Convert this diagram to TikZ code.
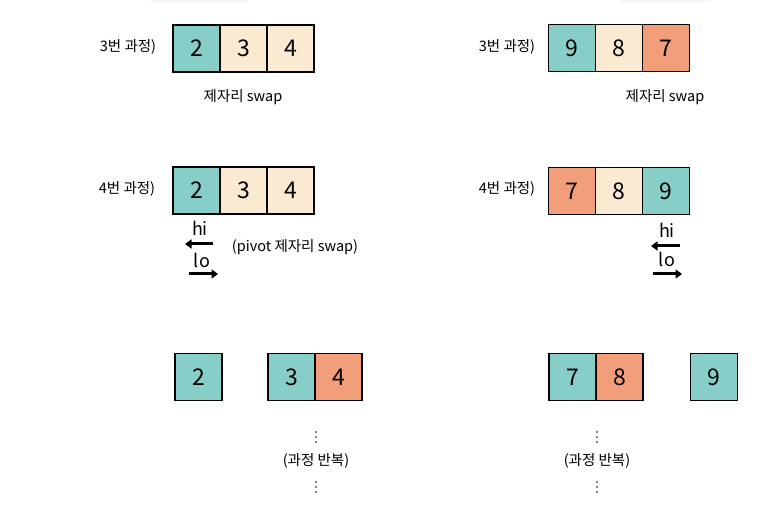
\documentclass[tikz,border=0pt]{standalone}
\usepackage{fontspec}
\setmainfont{Noto Sans CJK KR}
\usetikzlibrary{positioning, arrows.meta}
\definecolor{tealc}{RGB}{136,206,200}
\definecolor{creamc}{RGB}{250,234,210}
\definecolor{salmonc}{RGB}{242,158,122}

\begin{document}
\begin{tikzpicture}[x=1pt, y=-1pt,
    cell/.style={draw, line width=1.3pt, minimum size=47pt, inner sep=0pt, font=\fontsize{23}{23}\selectfont},
    lbl/.style={inner sep=1pt, font=\fontsize{14.5}{16}\selectfont},
    ptrlbl/.style={inner sep=0pt, font=\fontsize{18}{18}\selectfont},
    ptr/.style={line width=3pt, -{Triangle[length=6.5pt, width=9pt]}},
    dot/.style={circle, fill, inner sep=0pt, minimum size=1.6pt}]
    \useasboundingbox (0,0) rectangle (765,510);
    \fill[black!4] (150,0) rectangle (247,2);
    \fill[black!4] (620,0) rectangle (710,2);

    \foreach \v/\c [count=\i] in {2/tealc, 3/creamc, 4/creamc} {
        \node[cell, fill=\c] (la\i) at (149.5+47*\i, 48.5) {\v};
    }
    \foreach \v/\c [count=\i] in {9/tealc, 8/creamc, 7/salmonc} {
        \node[cell, fill=\c] (ra\i) at (525+47*\i, 48) {\v};
    }
    \node[lbl] (lstep3) at (128, 47) {3번 과정)};
    \node[lbl] (rstep3) at (507, 47) {3번 과정)};
    \node[lbl] (lswap) at (243, 97) {제자리 swap};
    \node[lbl] (rswap) at (665, 97) {제자리 swap};

    \foreach \v/\c [count=\i] in {2/tealc, 3/creamc, 4/creamc} {
        \node[cell, fill=\c] (lb\i) at (149.5+47*\i, 190.5) {\v};
    }
    \foreach \v/\c [count=\i] in {7/salmonc, 8/creamc, 9/tealc} {
        \node[cell, fill=\c] (rb\i) at (525+47*\i, 191) {\v};
    }
    \node[lbl] (lstep4) at (127, 189) {4번 과정)};
    \node[lbl] (rstep4) at (507, 189) {4번 과정)};

    \node[ptrlbl] (lhi) at (200, 228) {hi};
    \node[ptrlbl] (llo) at (202, 260) {lo};
    \coordinate (lhiS) at (213, 244);
    \coordinate (lhiE) at (185, 244);
    \coordinate (lloS) at (189, 274);
    \coordinate (lloE) at (218, 274);
    \draw[ptr] (lhiS) -- (lhiE);
    \draw[ptr] (lloS) -- (lloE);
    \node[lbl] (pswap) at (295, 247) {(pivot 제자리 swap)};

    \node[ptrlbl] (rhi) at (667, 230) {hi};
    \node[ptrlbl] (rlo) at (667, 259) {lo};
    \coordinate (rhiS) at (680, 246);
    \coordinate (rhiE) at (651, 246);
    \coordinate (rloS) at (653, 274);
    \coordinate (rloE) at (682, 274);
    \draw[ptr] (rhiS) -- (rhiE);
    \draw[ptr] (rloS) -- (rloE);

    \node[cell, fill=tealc] (lc1) at (198.5, 377) {2};
    \node[cell, fill=tealc] (lc2) at (291.5, 377) {3};
    \node[cell, fill=salmonc] (lc3) at (338.5, 377) {4};
    \node[cell, fill=tealc] (rc1) at (572.5, 377) {7};
    \node[cell, fill=salmonc] (rc2) at (619.5, 377) {8};
    \node[cell, fill=tealc] (rc3) at (714, 377) {9};

    \node[lbl] (lrep) at (316, 461) {(과정 반복)};
    \node[lbl] (rrep) at (597, 461) {(과정 반복)};
    \foreach \x in {316, 597} {
        \foreach \y in {432, 437, 442, 482, 487, 492} {
            \node[dot] at (\x, \y) {};
        }
    }
\end{tikzpicture}
\end{document}
